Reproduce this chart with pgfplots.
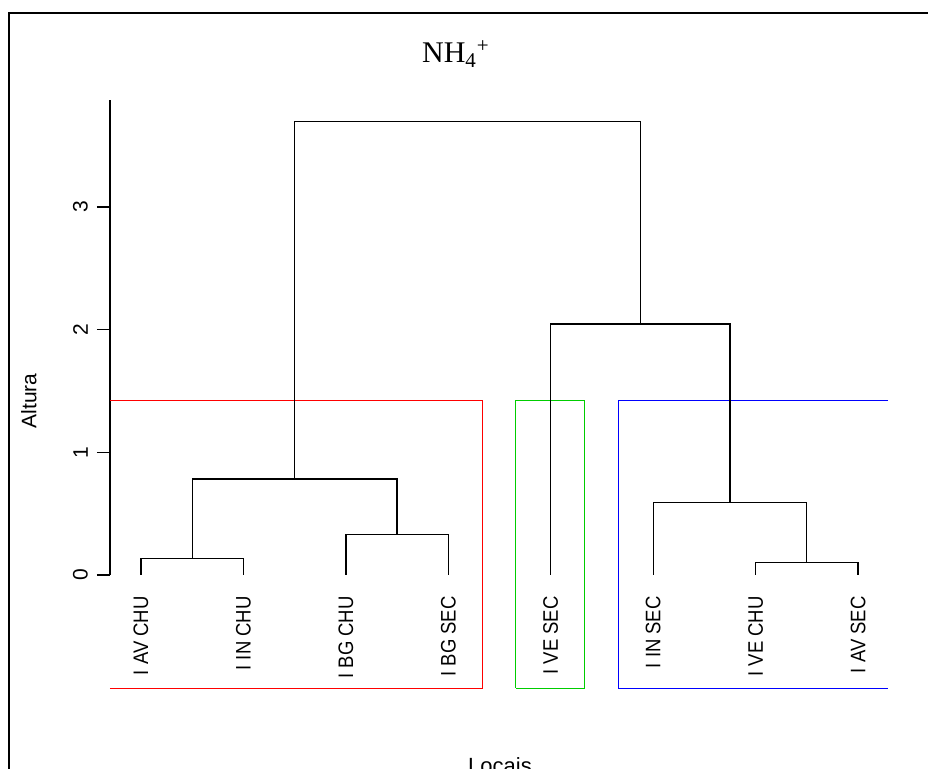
\documentclass[border=0pt]{standalone}
\usepackage{pgfplots}
\pgfplotsset{compat=1.18}
\usepackage{fontspec}
\setmainfont{Liberation Sans}
\newfontfamily\seriffont{Liberation Serif}
\newfontfamily\labfont[FakeStretch=0.88]{Liberation Sans}
\definecolor{rred}{RGB}{255,0,0}
\definecolor{rgreen}{RGB}{0,205,0}
\definecolor{rblue}{RGB}{0,0,255}
\tikzset{leaf/.style={rotate=90, anchor=east, inner sep=0pt, font=\labfont\fontsize{10.5}{12}\selectfont}}
\begin{document}
\begin{tikzpicture}
\path[use as bounding box, clip] (0,0) rectangle (464pt,384.5pt);
\begin{axis}[
  at={(55pt,97pt)}, anchor=south west, scale only axis,
  width=409pt, height=237.5pt,
  xmin=0.6974, xmax=8.683, ymin=0, ymax=3.871,
  hide x axis, axis y line*=left,
  axis line style={line width=0.65pt, black},
  ytick={0,1,2,3}, tick align=outside, ytick align=outside,
  major tick length=6.5pt,
  tick style={line width=0.65pt, black, major tick length=6.5pt},
  yticklabel style={rotate=90, anchor=south, yshift=1pt, font=\fontsize{10.5}{12}\selectfont},
  /pgf/number format/assume math mode=true,
  clip=false,
]
% cluster rectangles (rect.hclust, k = 3)
\addplot[rred, line width=0.5pt] coordinates {(0.6974,-0.921) (4.33,-0.921) (4.33,1.418) (0.6974,1.418)};
\addplot[rgreen, line width=0.5pt] coordinates {(4.66,-0.921) (5.33,-0.921) (5.33,1.418) (4.66,1.418) (4.66,-0.921)};
\addplot[rblue, line width=0.5pt] coordinates {(8.293,1.418) (5.657,1.418) (5.657,-0.921) (8.293,-0.921)};
% dendrogram merges
\addplot[black, line width=0.65pt] coordinates {(1,0) (1,0.136) (2,0.136) (2,0)};
\addplot[black, line width=0.65pt] coordinates {(3,0) (3,0.328) (4,0.328) (4,0)};
\addplot[black, line width=0.65pt] coordinates {(1.5,0.136) (1.5,0.782) (3.5,0.782) (3.5,0.328)};
\addplot[black, line width=0.65pt] coordinates {(7,0) (7,0.100) (8,0.100) (8,0)};
\addplot[black, line width=0.65pt] coordinates {(6,0) (6,0.592) (7.5,0.592) (7.5,0.100)};
\addplot[black, line width=0.65pt] coordinates {(5,0) (5,2.046) (6.75,2.046) (6.75,0.592)};
\addplot[black, line width=0.65pt] coordinates {(2.5,0.782) (2.5,3.694) (5.875,3.694) (5.875,2.046)};
% leaf labels
\node[leaf] at (axis cs:1,-0.171) {I AV CHU};
\node[leaf] at (axis cs:2,-0.171) {I IN CHU};
\node[leaf] at (axis cs:3,-0.171) {I BG CHU};
\node[leaf] at (axis cs:4,-0.171) {I BG SEC};
\node[leaf] at (axis cs:5,-0.171) {I VE SEC};
\node[leaf] at (axis cs:6,-0.171) {I IN SEC};
\node[leaf] at (axis cs:7,-0.171) {I VE CHU};
\node[leaf] at (axis cs:8,-0.171) {I AV SEC};
% texts
\node[anchor=base, inner sep=0pt, font=\seriffont\fontsize{15}{18}\selectfont] at (axis cs:4.075,4.173) {NH\textsubscript{4}\textsuperscript{+}};
\node[rotate=90, inner sep=0pt, font=\fontsize{10.5}{12}\selectfont] at (axis cs:-0.0934,1.418) {Altura};
\node[anchor=north, inner sep=0pt, font=\fontsize{11}{13}\selectfont] at (axis cs:4.505,-1.483) {Locais};
% outer frame
\draw[line width=1pt] (axis cs:-0.2887,-3) rectangle (axis cs:10,4.580);
\end{axis}
\end{tikzpicture}
\end{document}
